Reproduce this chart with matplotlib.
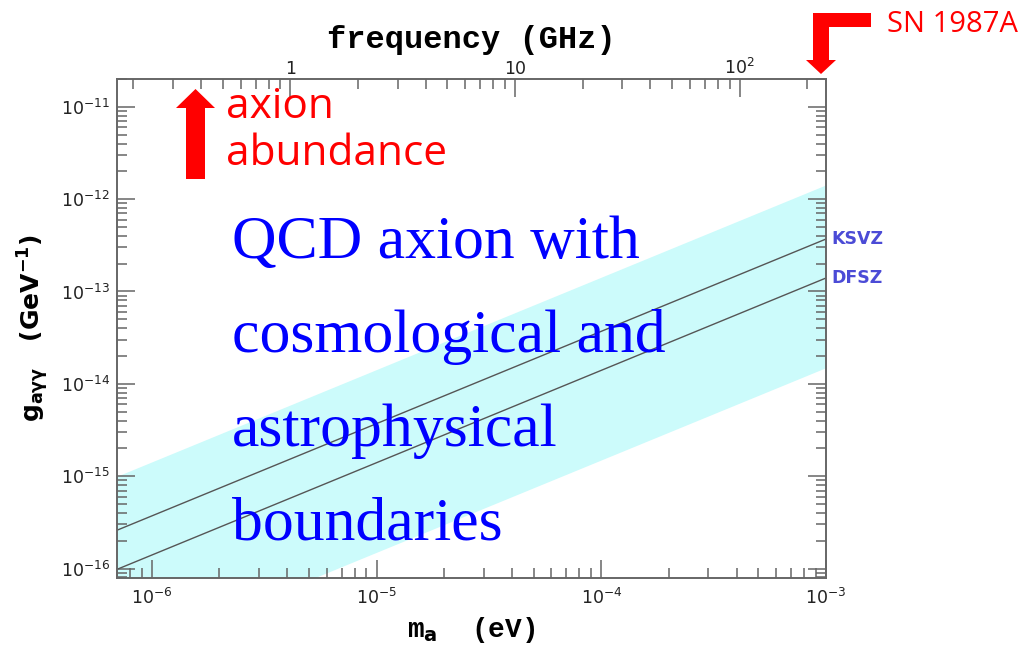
import numpy as np
import matplotlib.pyplot as plt
from matplotlib.patches import Polygon
from matplotlib.ticker import LogLocator, FixedLocator, FixedFormatter, NullFormatter

# axion mass (eV) at the two ends of the plotted range
mass_ev = [7e-7, 1e-3]

# photon coupling g_agg (GeV^-1) for the two benchmark models
ksvz = [2.6e-16, 3.7e-13]
dfsz = [9.8e-17, 1.4e-13]

# allowed QCD axion band
band_hi = [1.0e-15, 1.43e-12]
band_lo = [1.05e-17, 1.5e-14]

model_names = ['KSVZ', 'DFSZ']
freq_ticks = [1, 10, 100]
freq_labels = ['1', '10', '$10^2$']
text_lines = ['QCD axion with', 'cosmological and', 'astrophysical', 'boundaries']

H_EV_GHZ = 4.135667e-6  # eV per GHz


def m_to_f(m):
    return np.asarray(m) / H_EV_GHZ


def f_to_m(f):
    return np.asarray(f) * H_EV_GHZ


W, H = 1027, 647
fig = plt.figure(figsize=(W / 100, H / 100), dpi=100)
ax = fig.add_axes([117 / W, 1 - 578 / H, (826 - 117) / W, (578 - 79) / H])

ax.fill_between(mass_ev, band_lo, band_hi, color='#ccfbfb', lw=0)
ax.plot(mass_ev, ksvz, color='#555555', lw=1.0)
ax.plot(mass_ev, dfsz, color='#555555', lw=1.0)

ax.set_xscale('log')
ax.set_yscale('log')
ax.set_xlim(7e-7, 1e-3)
ax.set_ylim(7.9e-17, 2e-11)

spine_col = '#666666'
for s in ax.spines.values():
    s.set_color(spine_col)
    s.set_linewidth(1.4)

ax.xaxis.set_major_locator(LogLocator(base=10))
ax.xaxis.set_minor_locator(LogLocator(base=10, subs=np.arange(2, 10)))
ax.xaxis.set_minor_formatter(NullFormatter())
ax.yaxis.set_major_locator(LogLocator(base=10))
ax.yaxis.set_minor_locator(LogLocator(base=10, subs=np.arange(2, 10), numticks=20))
ax.yaxis.set_minor_formatter(NullFormatter())

ax.tick_params(which='both', direction='in', color=spine_col, width=1.1,
               left=True, right=True, bottom=True, top=False)
ax.tick_params(which='major', length=13)
ax.tick_params(which='minor', length=7)
ax.tick_params(axis='both', labelsize=12.5, labelcolor='#222222')
ax.tick_params(axis='x', pad=7)
ax.tick_params(axis='y', pad=5)

# frequency scale on the top axis
sec = ax.secondary_xaxis('top', functions=(m_to_f, f_to_m))
sec.spines['top'].set_visible(False)
sec.xaxis.set_major_locator(FixedLocator(freq_ticks))
sec.xaxis.set_major_formatter(FixedFormatter(freq_labels))
sec.xaxis.set_minor_locator(LogLocator(base=10, subs=np.arange(2, 10)))
sec.xaxis.set_minor_formatter(NullFormatter())
sec.tick_params(which='both', direction='in', color=spine_col, width=1.1)
sec.tick_params(which='major', length=13, labelsize=12.5, labelcolor='#222222', pad=1)
sec.tick_params(which='minor', length=7)
sec.set_xlabel('frequency (GHz)', family='Liberation Mono', weight='bold',
               fontsize=23, labelpad=7)

ax.set_xlabel(r'm$_\mathbf{a}$  (eV)', family='Liberation Mono', weight='bold',
              fontsize=20, labelpad=5)
ax.set_ylabel(r'$\mathbf{g_{a\gamma\gamma}}$   (GeV$^{\mathbf{-1}}$)',
              family='DejaVu Sans', weight='bold', fontsize=18, labelpad=7)

# model names on the right edge
for name, g in zip(model_names, [ksvz, dfsz]):
    ax.annotate(name, xy=(mass_ev[1], g[1]), xytext=(4, 0),
                textcoords='offset points', va='center', ha='left',
                fontsize=12.5, weight='bold', color='#4b4bd6',
                family='DejaVu Sans', annotation_clip=False)

# big blue caption
for i, line in enumerate(text_lines):
    fig.text(232 / W, 1 - (258 + 94 * i) / H, line, family='Liberation Serif',
             fontsize=44.5, color='#0000ff', va='baseline', ha='left')


def px_poly(pts):
    return Polygon([(x / W, 1 - y / H) for x, y in pts], closed=True,
                   transform=fig.transFigure, facecolor='#ff0000',
                   edgecolor='none')


# axion abundance arrow
fig.patches.append(px_poly([(186, 179), (186, 108), (176, 108), (195.5, 89),
                            (215, 108), (205, 108), (205, 179)]))
fig.text(226 / W, 1 - 118 / H, 'axion', family='Open Sans', fontsize=30.5,
         color='#ff0000', va='baseline')
fig.text(226 / W, 1 - 165 / H, 'abundance', family='Open Sans', fontsize=30.5,
         color='#ff0000', va='baseline')

# SN 1987A bent arrow
fig.patches.append(px_poly([(813, 13), (871, 13), (871, 27), (829, 27),
                            (829, 60), (836, 60), (821, 74), (806, 60),
                            (813, 60)]))
fig.text(887 / W, 1 - 32 / H, 'SN 1987A', family='Open Sans', fontsize=21,
         color='#ff0000', va='baseline')

fig.savefig('out.png', dpi=100)
